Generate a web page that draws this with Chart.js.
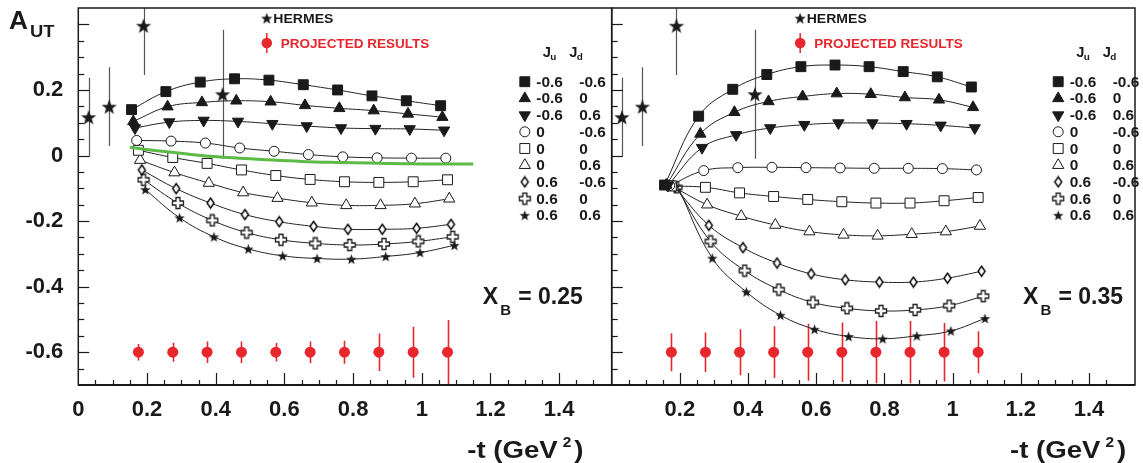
<!DOCTYPE html>
<html>
<head>
<meta charset="utf-8">
<title>A_UT vs -t</title>
<script src="https://cdn.jsdelivr.net/npm/chart.js@4.4.1/dist/chart.umd.min.js"></script>
<style>
  html, body { margin: 0; padding: 0; background: #fff; }
  #wrap { position: relative; width: 1143px; height: 463px; overflow: hidden; }
  canvas { position: absolute; top: 0; }
  #leftChart { left: 0; }
  #rightChart { left: 600px; }
</style>
</head>
<body>
<div id="wrap">
  <canvas id="leftChart" width="620" height="463"></canvas>
  <canvas id="rightChart" width="543" height="463"></canvas>
</div>
<script>
// ------------------------------
// DATA
// ------------------------------
const juValues = ['-0.6', '-0.6', '-0.6', '0', '0', '0', '0.6', '0.6', '0.6'];
const jdValues = ['-0.6', '0', '0.6', '-0.6', '0', '0.6', '-0.6', '0', '0.6'];

// -t of the model points (each curve is shifted a little)
const tModel = [
  [0.155, 0.255, 0.355, 0.455, 0.555, 0.655, 0.755, 0.855, 0.955, 1.055],
  [0.160, 0.260, 0.360, 0.460, 0.560, 0.660, 0.760, 0.860, 0.960, 1.060],
  [0.165, 0.265, 0.365, 0.465, 0.565, 0.665, 0.765, 0.865, 0.965, 1.065],
  [0.170, 0.270, 0.370, 0.470, 0.570, 0.670, 0.770, 0.870, 0.970, 1.070],
  [0.175, 0.275, 0.375, 0.475, 0.575, 0.675, 0.775, 0.875, 0.975, 1.075],
  [0.180, 0.280, 0.380, 0.480, 0.580, 0.680, 0.780, 0.880, 0.980, 1.080],
  [0.185, 0.285, 0.385, 0.485, 0.585, 0.685, 0.785, 0.885, 0.985, 1.085],
  [0.190, 0.290, 0.390, 0.490, 0.590, 0.690, 0.790, 0.890, 0.990, 1.090],
  [0.195, 0.295, 0.395, 0.495, 0.595, 0.695, 0.795, 0.895, 0.995, 1.095]
];

// model A_UT, x_B = 0.25
const modelLeft = [
  [0.140, 0.195, 0.224, 0.234, 0.230, 0.216, 0.200, 0.182, 0.167, 0.152],
  [0.104, 0.149, 0.162, 0.167, 0.164, 0.153, 0.144, 0.137, 0.127, 0.117],
  [0.084, 0.102, 0.107, 0.104, 0.097, 0.090, 0.084, 0.082, 0.081, 0.077],
  [0.046, 0.044, 0.038, 0.023, 0.013, 0.003, -0.004, -0.007, -0.008, -0.008],
  [0.016, -0.006, -0.024, -0.044, -0.061, -0.073, -0.080, -0.082, -0.080, -0.074],
  [-0.014, -0.052, -0.084, -0.113, -0.130, -0.144, -0.152, -0.152, -0.147, -0.132],
  [-0.044, -0.101, -0.145, -0.180, -0.202, -0.216, -0.225, -0.225, -0.222, -0.210],
  [-0.074, -0.145, -0.198, -0.235, -0.257, -0.268, -0.273, -0.270, -0.262, -0.248],
  [-0.104, -0.190, -0.248, -0.285, -0.306, -0.314, -0.316, -0.308, -0.296, -0.274]
];

// model A_UT, x_B = 0.35
const modelRight = [
  [-0.090, 0.120, 0.202, 0.247, 0.271, 0.276, 0.271, 0.256, 0.240, 0.209],
  [-0.090, 0.066, 0.132, 0.165, 0.180, 0.189, 0.187, 0.177, 0.170, 0.147],
  [-0.091, 0.024, 0.063, 0.084, 0.094, 0.099, 0.099, 0.097, 0.092, 0.084],
  [-0.092, -0.046, -0.037, -0.036, -0.037, -0.038, -0.039, -0.039, -0.040, -0.044],
  [-0.093, -0.097, -0.114, -0.125, -0.134, -0.141, -0.145, -0.145, -0.138, -0.128],
  [-0.095, -0.150, -0.185, -0.212, -0.232, -0.242, -0.245, -0.240, -0.232, -0.215],
  [-0.096, -0.213, -0.281, -0.328, -0.361, -0.379, -0.386, -0.386, -0.374, -0.353],
  [-0.097, -0.262, -0.351, -0.409, -0.448, -0.466, -0.474, -0.471, -0.458, -0.429],
  [-0.098, -0.313, -0.416, -0.487, -0.530, -0.552, -0.559, -0.550, -0.535, -0.497]
];

// green curve (left panel only)
const tGreen = [0.15, 0.25, 0.35, 0.45, 0.55, 0.65, 0.75, 0.85, 0.95, 1.05, 1.15];
const aGreen = [0.025, 0.012, 0.001, -0.007, -0.013, -0.018, -0.021, -0.023, -0.025, -0.026, -0.026];

// HERMES points
const tHermes = [0.03, 0.09, 0.19, 0.42];
const aHermes = [0.117, 0.149, 0.396, 0.187];
const errHermes = [0.12, 0.12, 0.15, 0.197];

// projected results
const tProj = [0.175, 0.275, 0.375, 0.475, 0.575, 0.675, 0.775, 0.875, 0.975, 1.075];
const aProj = [-0.6, -0.6, -0.6, -0.6, -0.6, -0.6, -0.6, -0.6, -0.6, -0.6];
const projErrLeft = [0.025, 0.029, 0.033, 0.033, 0.028, 0.033, 0.035, 0.057, 0.078, 0.098];
const projErrRight = [0.058, 0.060, 0.070, 0.079, 0.087, 0.091, 0.095, 0.095, 0.089, 0.064];

// ------------------------------
// MARKERS
// ------------------------------
const FONT = '"Liberation Sans", Arial, sans-serif';
const INK = '#1a1a1a';
const RED = '#e8262d';

function makeCanvas(s) {
  const c = document.createElement('canvas');
  c.width = s; c.height = s;
  return c;
}

function makeStar(ro, ri) {
  const s = Math.ceil(ro * 2 + 2);
  const c = makeCanvas(s);
  const g = c.getContext('2d');
  g.translate(s / 2, s / 2 + ro * 0.1);
  g.beginPath();
  for (let i = 0; i < 10; i++) {
    const r = i % 2 ? ri : ro;
    const a = -Math.PI / 2 + i * Math.PI / 5;
    g.lineTo(r * Math.cos(a), r * Math.sin(a));
  }
  g.closePath();
  g.fillStyle = INK;
  g.fill();
  return c;
}

function makePlus(size, arm) {
  const s = size + 3;
  const c = makeCanvas(s);
  const g = c.getContext('2d');
  g.translate(s / 2, s / 2);
  const a = arm / 2, b = size / 2;
  const pts = [[-a, -b], [a, -b], [a, -a], [b, -a], [b, a], [a, a], [a, b], [-a, b], [-a, a], [-b, a], [-b, -a], [-a, -a]];
  g.beginPath();
  pts.forEach(p => g.lineTo(p[0], p[1]));
  g.closePath();
  g.fillStyle = '#fff';
  g.fill();
  g.strokeStyle = INK;
  g.lineWidth = 1.3;
  g.stroke();
  return c;
}

function makeDiamond(w, h) {
  const s = Math.ceil(h + 3);
  const c = makeCanvas(s);
  const g = c.getContext('2d');
  g.translate(s / 2, s / 2);
  g.beginPath();
  g.moveTo(0, -h / 2); g.lineTo(w / 2, 0); g.lineTo(0, h / 2); g.lineTo(-w / 2, 0);
  g.closePath();
  g.fillStyle = '#fff';
  g.fill();
  g.strokeStyle = '#000';
  g.lineWidth = 1.4;
  g.stroke();
  return c;
}

const starSmall = makeStar(5.5, 2.3);
const starHermes = makeStar(8, 3.3);
const starLegend = makeStar(6, 2.5);
const plusImg = makePlus(11, 4);
const diamondImg = makeDiamond(7, 10);

const seriesStyles = [
  { pointStyle: 'rect', radius: 7, fill: INK, rotation: 0 },
  { pointStyle: 'triangle', radius: 6.5, fill: INK, rotation: 0 },
  { pointStyle: 'triangle', radius: 6.5, fill: INK, rotation: 180 },
  { pointStyle: 'circle', radius: 5, fill: '#fff', rotation: 0 },
  { pointStyle: 'rect', radius: 7, fill: '#fff', rotation: 0 },
  { pointStyle: 'triangle', radius: 6.5, fill: '#fff', rotation: 0 },
  { pointStyle: diamondImg, radius: 5, fill: '#fff', rotation: 0 },
  { pointStyle: plusImg, radius: 5, fill: '#fff', rotation: 0 },
  { pointStyle: starSmall, radius: 5, fill: INK, rotation: 0 }
];

// ------------------------------
// DECORATION PLUGIN
// ------------------------------
function isMult(v, step) {
  const q = v / step;
  return Math.abs(q - Math.round(q)) < 1e-6;
}

function drawText(ctx, text, x, y, size, color, sx, align) {
  ctx.save();
  ctx.font = 'bold ' + size + 'px ' + FONT;
  ctx.fillStyle = color;
  ctx.textBaseline = 'alphabetic';
  ctx.textAlign = align || 'left';
  ctx.translate(x, y);
  ctx.scale(sx, 1);
  ctx.fillText(text, 0, 0);
  const w = ctx.measureText(text).width * sx;
  ctx.restore();
  return w;
}

const panelDeco = {
  id: 'panelDeco',
  beforeDatasetsDraw(chart) {
    const ctx = chart.ctx, a = chart.chartArea;
    const xs = chart.scales.x, ys = chart.scales.y;
    ctx.save();
    ctx.beginPath();
    ctx.rect(a.left, a.top, a.right - a.left, a.bottom - a.top);
    ctx.clip();
    chart.data.datasets.forEach(ds => {
      if (!ds.errorBars) return;
      ctx.strokeStyle = ds.errorColor;
      ctx.lineWidth = ds.errorWidth;
      ds.data.forEach((p, i) => {
        const px = Math.round(xs.getPixelForValue(p.x)) + 0.5;
        ctx.beginPath();
        ctx.moveTo(px, ys.getPixelForValue(p.y - ds.errorBars[i]));
        ctx.lineTo(px, ys.getPixelForValue(p.y + ds.errorBars[i]));
        ctx.stroke();
      });
    });
    ctx.restore();
  },
  afterDraw(chart, args, opts) {
    const ctx = chart.ctx, a = chart.chartArea;
    const xs = chart.scales.x, ys = chart.scales.y;
    const L = a.left;

    // frame
    ctx.save();
    ctx.strokeStyle = INK;
    ctx.lineWidth = 1.5;
    ctx.strokeRect(a.left, a.top, a.right - a.left, a.bottom - a.top);
    ctx.lineWidth = 2;
    ctx.beginPath();
    ctx.moveTo(a.left, a.bottom);
    ctx.lineTo(a.right, a.bottom);
    ctx.stroke();

    // inward tick marks
    ctx.lineWidth = 1.2;
    xs.ticks.forEach(t => {
      if (!isMult(t.value, 0.05) || t.value <= xs.min + 1e-9 || t.value >= xs.max - 1e-9) return;
      const px = Math.round(xs.getPixelForValue(t.value)) + 0.5;
      const len = isMult(t.value, 0.2) ? 12 : 5;
      ctx.beginPath();
      ctx.moveTo(px, a.bottom);
      ctx.lineTo(px, a.bottom - len);
      ctx.stroke();
    });
    ys.ticks.forEach(t => {
      if (!isMult(t.value, 0.05) || t.value <= ys.min + 1e-9 || t.value >= ys.max - 1e-9) return;
      const py = Math.round(ys.getPixelForValue(t.value)) + 0.5;
      const len = isMult(t.value, 0.2) ? 11 : 6;
      ctx.beginPath();
      ctx.moveTo(a.left, py);
      ctx.lineTo(a.left + len, py);
      ctx.stroke();
    });
    ctx.restore();

    // axis title  -t (GeV^2)
    let x = L + opts.titleX;
    x += drawText(ctx, '-t (GeV', x, 458, 24, INK, 1.15);
    x += 5;
    x += drawText(ctx, '2', x, 447, 14, INK, 1.1);
    x += 3;
    drawText(ctx, ')', x, 458, 24, INK, 1.15);

    // A_UT
    if (opts.showAut) {
      drawText(ctx, 'A', 9, 28.5, 25, INK, 1.05);
      drawText(ctx, 'UT', 30, 36.5, 16, INK, 1.15);
    }

    // X_B label
    const xb = L + opts.xbX;
    drawText(ctx, 'X', xb, 304, 23, INK, 1.0);
    drawText(ctx, 'B', xb + 17.5, 315, 15, INK, 1.0);
    drawText(ctx, '= ' + opts.xbValue, xb + 35.5, 304, 23, INK, 1.0);

    // HERMES / projected legend
    const hs = starLegend;
    ctx.drawImage(hs, L + 188.4 - hs.width / 2, 18.3 - hs.height / 2);
    drawText(ctx, 'HERMES', L + 195, 22.8, 13, INK, 1.08);
    ctx.save();
    ctx.strokeStyle = RED;
    ctx.lineWidth = 1.5;
    ctx.beginPath();
    ctx.moveTo(L + 188.5, 33);
    ctx.lineTo(L + 188.5, 53);
    ctx.stroke();
    ctx.fillStyle = RED;
    ctx.beginPath();
    ctx.arc(L + 188.5, 43, 5.3, 0, Math.PI * 2);
    ctx.fill();
    ctx.restore();
    drawText(ctx, 'PROJECTED RESULTS', L + 202.5, 47.8, 13, RED, 1.04);

    // J_u / J_d table
    drawText(ctx, 'J', L + 464.5, 57, 14, INK, 1.05);
    drawText(ctx, 'u', L + 472, 60, 9, INK, 1.1);
    drawText(ctx, 'J', L + 491, 57, 14, INK, 1.05);
    drawText(ctx, 'd', L + 498.5, 60, 9, INK, 1.1);
    juValues.forEach((ju, k) => {
      const cy = 81.7 + 16.7 * k;
      const st = seriesStyles[k];
      ctx.save();
      ctx.fillStyle = st.fill;
      ctx.strokeStyle = INK;
      ctx.lineWidth = 1;
      Chart.helpers.drawPoint(ctx, {
        pointStyle: st.pointStyle, radius: st.radius, rotation: st.rotation, borderWidth: 1
      }, L + 446.5, cy);
      ctx.restore();
      drawText(ctx, ju, L + 458, cy + 5, 14, INK, 1.1);
      drawText(ctx, jdValues[k], L + 501, cy + 5, 14, INK, 1.1);
    });
  }
};

// ------------------------------
// CHART BUILDING
// ------------------------------
function buildDatasets(modelVals, projErr, withGreen) {
  const sets = [];
  sets.push({
    label: 'HERMES',
    data: tHermes.map((t, i) => ({ x: t, y: aHermes[i] })),
    errorBars: errHermes, errorColor: '#555', errorWidth: 1.2,
    showLine: false,
    pointStyle: starHermes, pointRadius: 5, pointHoverRadius: 5
  });
  sets.push({
    label: 'Projected results',
    data: tProj.map((t, i) => ({ x: t, y: aProj[i] })),
    errorBars: projErr, errorColor: RED, errorWidth: 1.6,
    showLine: false,
    pointStyle: 'circle', pointRadius: 5.5, pointHoverRadius: 5.5,
    pointBackgroundColor: RED, pointBorderColor: RED, pointBorderWidth: 0
  });
  if (withGreen) {
    sets.push({
      label: 'green',
      data: tGreen.map((t, i) => ({ x: t, y: aGreen[i] })),
      showLine: true, borderColor: '#5cba46', borderWidth: 3,
      pointRadius: 0, tension: 0.4
    });
  }
  modelVals.forEach((vals, k) => {
    const st = seriesStyles[k];
    sets.push({
      label: 'Ju=' + juValues[k] + ' Jd=' + jdValues[k],
      data: tModel[k].map((t, i) => ({ x: t, y: vals[i] })),
      showLine: true, borderColor: '#222', borderWidth: 1, tension: 0.4,
      pointStyle: st.pointStyle, pointRadius: st.radius, pointHoverRadius: st.radius,
      pointRotation: st.rotation,
      pointBackgroundColor: st.fill, pointBorderColor: INK, pointBorderWidth: 1
    });
  });
  return sets;
}

function buildChart(canvasId, cfg) {
  const ctx = document.getElementById(canvasId).getContext('2d');
  return new Chart(ctx, {
    type: 'scatter',
    data: { datasets: buildDatasets(cfg.model, cfg.projErr, cfg.green) },
    options: {
      responsive: false,
      animation: false,
      layout: { padding: { top: 5, right: cfg.padRight, bottom: 0, left: 0 } },
      scales: {
        x: {
          type: 'linear', min: 0, max: cfg.xMax,
          grid: { display: false, drawTicks: false },
          border: { display: false },
          ticks: {
            stepSize: 0.05, autoSkip: false, maxRotation: 0, padding: 12,
            color: INK, font: { family: FONT, size: 22, weight: 'bold' },
            callback: v => {
              if (!isMult(v, 0.2)) return '';
              if (Math.abs(v) < 1e-9) return cfg.showZero ? '0' : '';
              if (Math.abs(v - 1) < 1e-9) return '1';
              return v.toFixed(1);
            }
          },
          afterFit: s => {
            s.height = 78;
            s.paddingLeft = 0;
            s.paddingRight = 0;
          }
        },
        y: {
          type: 'linear', min: -0.7, max: 0.45,
          grid: { display: false, drawTicks: false },
          border: { display: false },
          ticks: {
            display: cfg.yLabels, stepSize: 0.05, autoSkip: false, padding: 15,
            color: INK, font: { family: FONT, size: 22, weight: 'bold' },
            callback: v => {
              if (!isMult(v, 0.2) || v > 0.3) return '';
              if (Math.abs(v) < 1e-9) return '0';
              return v.toFixed(1);
            }
          },
          afterFit: s => {
            s.width = cfg.yWidth;
            s.paddingTop = 0;
            s.paddingBottom = 0;
          }
        }
      },
      plugins: {
        legend: { display: false },
        tooltip: { enabled: false },
        panelDeco: cfg.deco
      }
    },
    plugins: [panelDeco]
  });
}

buildChart('leftChart', {
  model: modelLeft, projErr: projErrLeft, green: true,
  xMax: 1.553, padRight: 8.3, yWidth: 78.3, yLabels: true, showZero: true,
  deco: { titleX: 389, xbX: 404.4, xbValue: '0.25', showAut: true }
});

buildChart('rightChart', {
  model: modelRight, projErr: projErrRight, green: false,
  xMax: 1.535, padRight: 4, yWidth: 11.7, yLabels: false, showZero: false,
  deco: { titleX: 398.3, xbX: 411.3, xbValue: '0.35', showAut: false }
});
</script>
</body>
</html>
